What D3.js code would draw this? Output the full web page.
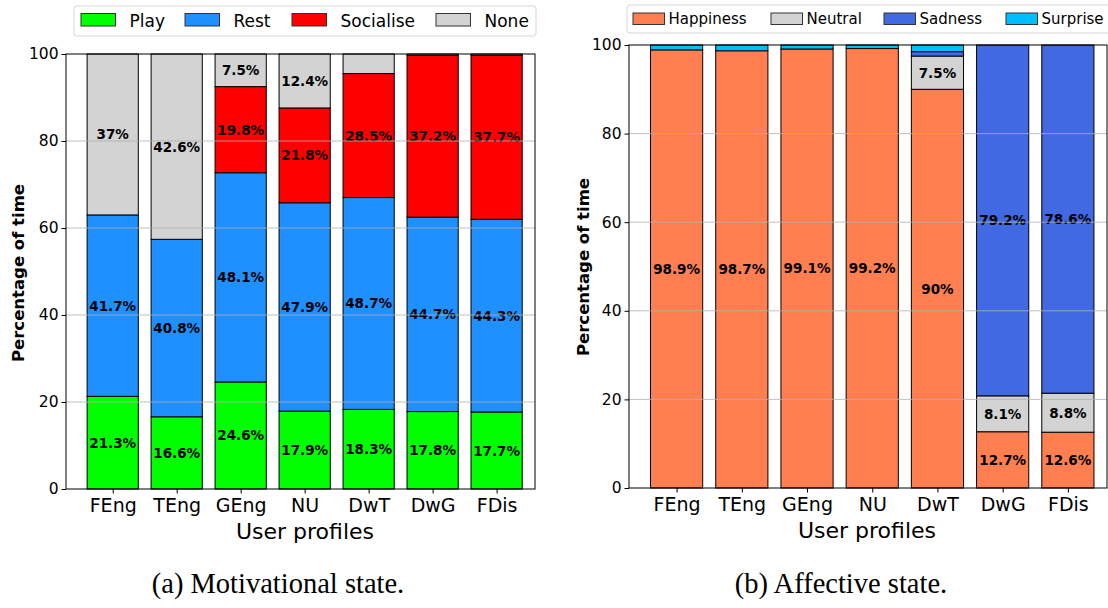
<!DOCTYPE html>
<html>
<head>
<meta charset="utf-8">
<script src="https://cdn.jsdelivr.net/npm/d3@7"></script>
<style>
  html, body { margin: 0; padding: 0; background: #fff; }
  svg { display: block; }
  text { font-family: "DejaVu Sans", sans-serif; fill: #000; }
</style>
</head>
<body>
<svg id="chart" width="1108" height="608"></svg>
<script>
// User profiles shared by both panels
const profiles = ["FEng", "TEng", "GEng", "NU", "DwT", "DwG", "FDis"];
const yTicks = [0, 20, 40, 60, 80, 100];

// (a) Motivational state, percentage of time per profile
const motivationKeys = ["Play", "Rest", "Socialise", "None"];
const motivationColors = ["#00ff00", "#1e90ff", "#ff0000", "#d3d3d3"];
const play      = [21.3, 16.6, 24.6, 17.9, 18.3, 17.8, 17.7];
const rest      = [41.7, 40.8, 48.1, 47.9, 48.7, 44.7, 44.3];
const socialise = [0, 0, 19.8, 21.8, 28.5, 37.2, 37.7];
const none      = [37, 42.6, 7.5, 12.4, 4.5, 0.3, 0.3];

// (b) Affective state, percentage of time per profile
const affectKeys = ["Happiness", "Neutral", "Sadness", "Surprise"];
const affectColors = ["#ff7f50", "#d3d3d3", "#4169e1", "#00bfff"];
const happiness = [98.9, 98.7, 99.1, 99.2, 90, 12.7, 12.6];
const neutral   = [0, 0, 0, 0, 7.5, 8.1, 8.8];
const sadness   = [0, 0, 0, 0, 1.0, 79.2, 78.6];
const surprise  = [1.1, 1.3, 0.9, 0.8, 1.5, 0, 0];

const svg = d3.select("#chart");

function drawPanel(cfg) {
  const g = svg.append("g");
  const x = d3.scaleLinear().domain([-0.73, profiles.length - 0.4]).range([cfg.x0, cfg.x1]);
  const y = d3.scaleLinear().domain([0, 100]).range([cfg.yBottom, cfg.yTop]);
  const barW = x(0.8) - x(0);

  // stacked rows: one object per profile
  const rows = profiles.map((p, i) => {
    const r = { profile: p, i };
    cfg.keys.forEach((k, j) => { r[k] = cfg.series[j][i]; });
    return r;
  });
  const stacked = d3.stack().keys(cfg.keys)(rows);

  stacked.forEach((layer, j) => {
    g.append("g")
      .selectAll("rect")
      .data(layer)
      .join("rect")
      .attr("x", d => x(d.data.i) - barW / 2)
      .attr("width", barW)
      .attr("y", d => y(d[1]))
      .attr("height", d => y(d[0]) - y(d[1]))
      .attr("fill", cfg.colors[j])
      .attr("stroke", "#000")
      .attr("stroke-width", 1);
  });

  // value labels for the larger segments
  stacked.forEach(layer => {
    g.append("g")
      .selectAll("text")
      .data(layer.filter(d => d[1] - d[0] >= 5))
      .join("text")
      .attr("x", d => x(d.data.i))
      .attr("y", d => y((d[0] + d[1]) / 2))
      .attr("text-anchor", "middle")
      .attr("dominant-baseline", "central")
      .style("font-weight", "bold")
      .style("font-size", "13.5px")
      .text(d => `${+(d[1] - d[0]).toFixed(1)}%`);
  });

  // horizontal grid drawn over the bars
  g.append("g")
    .selectAll("line")
    .data(yTicks.filter(t => t > 0 && t < 100))
    .join("line")
    .attr("x1", cfg.x0).attr("x2", cfg.x1)
    .attr("y1", d => y(d)).attr("y2", d => y(d))
    .attr("stroke", "#b0b0b0")
    .attr("stroke-opacity", 0.8)
    .attr("stroke-width", 1);

  // frame
  g.append("rect")
    .attr("x", cfg.x0).attr("y", cfg.yTop)
    .attr("width", cfg.x1 - cfg.x0).attr("height", cfg.yBottom - cfg.yTop)
    .attr("fill", "none").attr("stroke", "#000").attr("stroke-width", 1);

  // y axis
  const yAxis = g.append("g")
    .attr("transform", `translate(${cfg.x0},0)`)
    .call(d3.axisLeft(y).tickValues(yTicks).tickSize(4.5).tickPadding(3));
  yAxis.select(".domain").remove();
  yAxis.selectAll("text").style("font-size", "15.5px").style("font-family", "DejaVu Sans");

  // x axis
  const xAxis = g.append("g")
    .attr("transform", `translate(0,${cfg.yBottom})`)
    .call(d3.axisBottom(x).tickValues(d3.range(profiles.length)).tickFormat(i => profiles[i])
      .tickSize(4.5).tickPadding(5));
  xAxis.select(".domain").remove();
  xAxis.selectAll("text").style("font-size", "19px").style("font-family", "DejaVu Sans");

  // axis titles
  g.append("text")
    .attr("transform", `translate(${cfg.yLabelX},${cfg.yLabelY}) rotate(-90)`)
    .attr("text-anchor", "middle")
    .attr("dominant-baseline", "central")
    .style("font-weight", "bold")
    .style("font-size", "16.5px")
    .text("Percentage of time");

  g.append("text")
    .attr("x", cfg.xLabelX).attr("y", cfg.xLabelY)
    .attr("text-anchor", "middle")
    .style("font-size", "22px")
    .text("User profiles");

  // caption
  g.append("text")
    .attr("x", cfg.captionX).attr("y", 593)
    .attr("text-anchor", "middle")
    .style("font-family", "'Liberation Serif', 'Times New Roman', serif")
    .style("font-size", "28.5px")
    .text(cfg.caption);

  // legend
  const L = cfg.legend;
  g.append("rect")
    .attr("x", L.x).attr("y", L.y).attr("width", L.w).attr("height", L.h)
    .attr("rx", 3).attr("ry", 3)
    .attr("fill", "#fff").attr("fill-opacity", 0.8)
    .attr("stroke", "#d6d6d6").attr("stroke-width", 1);
  cfg.keys.forEach((k, j) => {
    g.append("rect")
      .attr("x", L.items[j]).attr("y", L.sy)
      .attr("width", L.sw).attr("height", L.sh)
      .attr("fill", cfg.colors[j])
      .attr("stroke", "#333").attr("stroke-width", 1);
    g.append("text")
      .attr("x", L.items[j] + L.sw + L.gap).attr("y", L.ty)
      .style("font-size", L.fs)
      .text(k);
  });
}

drawPanel({
  keys: motivationKeys, colors: motivationColors,
  series: [play, rest, socialise, none],
  x0: 66, x1: 535, yTop: 54, yBottom: 489,
  yLabelX: 18, yLabelY: 273, xLabelX: 305, xLabelY: 539,
  captionX: 278, caption: "(a) Motivational state.",
  legend: { x: 74, y: 6, w: 462, h: 30, items: [81, 185, 292, 436],
            sy: 13.5, sw: 34.5, sh: 12.5, gap: 14, ty: 26.5, fs: "17px" }
});

drawPanel({
  keys: affectKeys, colors: affectColors,
  series: [happiness, neutral, sadness, surprise],
  x0: 629, x1: 1107, yTop: 45, yBottom: 488,
  yLabelX: 583, yLabelY: 267, xLabelX: 867, xLabelY: 538,
  captionX: 841, caption: "(b) Affective state.",
  legend: { x: 627, y: 5, w: 490, h: 28, items: [633, 771, 884, 1006],
            sy: 13, sw: 31.5, sh: 11.5, gap: 4, ty: 24, fs: "15px" }
});
</script>
</body>
</html>
